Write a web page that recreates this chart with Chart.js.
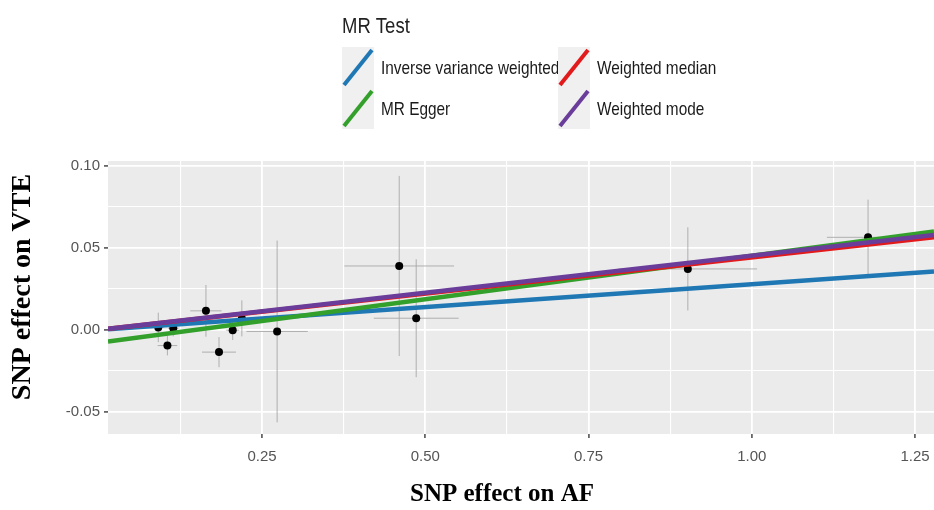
<!DOCTYPE html>
<html>
<head>
<meta charset="utf-8">
<script src="https://cdn.jsdelivr.net/npm/chart.js@4.4.1/dist/chart.umd.min.js"></script>
<style>
	html, body { margin: 0; padding: 0; background: #fff; }
	#mr-scatter { display: block; }
</style>
</head>
<body>
<canvas id="mr-scatter" width="934" height="510"></canvas>
<script>
// SNP estimates (effect on AF / effect on VTE) with half-widths of the error bars
const snpX = [0.091, 0.105, 0.114, 0.164, 0.184, 0.205, 0.219, 0.273, 0.460, 0.486, 0.902, 1.178];
const snpY = [0.0015, -0.0096, 0.001, 0.0116, -0.0136, -0.0002, 0.007, -0.001, 0.039, 0.0071, 0.0372, 0.0565];
const snpErrX = [0.008, 0.015, 0.008, 0.024, 0.026, 0.010, 0.010, 0.047, 0.084, 0.065, 0.106, 0.063];
const snpErrY = [0.009, 0.006, 0.005, 0.0158, 0.0092, 0.006, 0.011, 0.0555, 0.055, 0.036, 0.0254, 0.023];

// MR methods: fitted lines (intercept + slope * x)
const methodNames = ["Inverse variance weighted", "MR Egger", "Weighted median", "Weighted mode"];
const methodSlopes = [0.0278, 0.0530, 0.0442, 0.0453];
const methodIntercepts = [0, -0.0078, 0, 0];

// axis ticks
const xTicks = [0.25, 0.5, 0.75, 1.0, 1.25];
const xTickLabels = ["0.25", "0.50", "0.75", "1.00", "1.25"];
const xMinorTicks = [0.125, 0.375, 0.625, 0.875, 1.125];
const yTicks = [-0.05, 0, 0.05, 0.1];
const yTickLabels = ["-0.05", "0.00", "0.05", "0.10"];
const yMinorTicks = [-0.025, 0.025, 0.075];

const X_MIN = 0.014, X_MAX = 1.279;
const Y_MIN = -0.0636, Y_MAX = 0.1031;

const METHOD_COLORS = ["#1f78b4", "#33a02c", "#e31a1c", "#6a3d9a"];
const TICK_FONT = "'Liberation Sans', Arial, sans-serif";
const TITLE_FONT = "'Liberation Serif', 'Times New Roman', serif";

const near = (a, b) => Math.abs(a - b) < 1e-6;
const majorLabel = (list, labels, v) => {
	const i = list.findIndex((t) => near(t, v));
	return i >= 0 ? labels[i] : "";
};
const isMajor = (list, v) => list.some((t) => near(t, v));

// narrow text, like the squeezed picture
const narrowText = (ctx, text, x, y, squeeze) => {
	ctx.save();
	ctx.translate(x, y);
	ctx.scale(squeeze, 1);
	ctx.fillText(text, 0, 0);
	ctx.restore();
};

// grey panel + error bars under the points
const panel = {
	id: "panel",
	beforeDraw(chart) {
		const { ctx, chartArea: a } = chart;
		ctx.save();
		ctx.fillStyle = "#ebebeb";
		ctx.fillRect(a.left, a.top, a.right - a.left, a.bottom - a.top);
		ctx.restore();
	},
	beforeDatasetsDraw(chart) {
		const { ctx, chartArea: a, scales } = chart;
		ctx.save();
		ctx.beginPath();
		ctx.rect(a.left, a.top, a.right - a.left, a.bottom - a.top);
		ctx.clip();
		ctx.strokeStyle = "rgba(165,165,165,0.85)";
		ctx.lineWidth = 1;
		snpX.forEach((x, i) => {
			const y = snpY[i];
			const px = scales.x.getPixelForValue(x);
			const py = scales.y.getPixelForValue(y);
			ctx.beginPath();
			ctx.moveTo(scales.x.getPixelForValue(x - snpErrX[i]), py);
			ctx.lineTo(scales.x.getPixelForValue(x + snpErrX[i]), py);
			ctx.moveTo(px, scales.y.getPixelForValue(y - snpErrY[i]));
			ctx.lineTo(px, scales.y.getPixelForValue(y + snpErrY[i]));
			ctx.stroke();
		});
		ctx.restore();
	},
};

// ggplot style legend and axis titles
const decor = {
	id: "decor",
	afterDraw(chart) {
		const { ctx } = chart;
		ctx.save();
		ctx.fillStyle = "#222";
		ctx.textBaseline = "alphabetic";
		ctx.textAlign = "left";
		ctx.font = `22px ${TICK_FONT}`;
		narrowText(ctx, "MR Test", 342, 33, 0.84);

		const lines = chart.data.datasets.filter((d) => d.showLine);
		lines.forEach((d, i) => {
			const col = Math.floor(i / 2);
			const row = i % 2;
			const kx = 342 + col * 216;
			const ky = 47 + row * 41;
			ctx.fillStyle = "#f0f0f0";
			ctx.fillRect(kx, ky, 32, 41);
			ctx.strokeStyle = d.borderColor;
			ctx.lineWidth = 4;
			ctx.beginPath();
			ctx.moveTo(kx + 2, ky + 38);
			ctx.lineTo(kx + 30, ky + 3);
			ctx.stroke();
			ctx.fillStyle = "#1a1a1a";
			ctx.font = `18.5px ${TICK_FONT}`;
			ctx.textBaseline = "middle";
			narrowText(ctx, d.label, kx + 39, ky + 22, 0.83);
		});

		ctx.fillStyle = "#000";
		ctx.font = `bold 25px ${TITLE_FONT}`;
		ctx.textAlign = "center";
		ctx.textBaseline = "middle";
		ctx.fillText("SNP effect on AF", 502, 495);

		ctx.translate(23, 287);
		ctx.rotate(-Math.PI / 2);
		ctx.font = `bold 28px ${TITLE_FONT}`;
		ctx.fillText("SNP effect on VTE", 0, 0);
		ctx.restore();
	},
};

const lineDatasets = methodNames.map((name, i) => ({
	type: "scatter",
	label: name,
	showLine: true,
	data: [X_MIN, X_MAX].map((x) => ({ x, y: methodIntercepts[i] + methodSlopes[i] * x })),
	borderColor: METHOD_COLORS[i],
	backgroundColor: METHOD_COLORS[i],
	borderWidth: 4.5,
	pointRadius: 0,
	order: 4 - i,
}));

const DATA = {
	datasets: [
		{
			type: "scatter",
			label: "SNPs",
			data: snpX.map((x, i) => ({ x, y: snpY[i] })),
			backgroundColor: "#000",
			borderWidth: 0,
			pointRadius: 4,
			order: 10,
		},
		...lineDatasets,
	],
};

const CONFIG = {
	type: "scatter",
	data: DATA,
	options: {
		responsive: false,
		animation: false,
		devicePixelRatio: 1,
		layout: {
			autoPadding: false,
			padding: { top: 161, left: 0, right: 0, bottom: 0 },
		},
		plugins: {
			legend: { display: false },
			tooltip: { enabled: false },
		},
		scales: {
			x: {
				type: "linear",
				min: X_MIN,
				max: X_MAX,
				afterBuildTicks: (axis) => {
					axis.ticks = [...xMinorTicks, ...xTicks].sort((p, q) => p - q).map((value) => ({ value }));
				},
				afterFit: (axis) => {
					axis.height = 76;
					axis.paddingLeft = 0;
					axis.paddingRight = 0;
				},
				border: { display: false },
				grid: {
					color: "#fff",
					lineWidth: (c) => (c.tick && isMajor(xTicks, c.tick.value) ? 1.8 : 1.1),
					tickColor: (c) => (c.tick && isMajor(xTicks, c.tick.value) ? "#666" : "rgba(0,0,0,0)"),
					tickLength: 4,
					drawTicks: true,
				},
				ticks: {
					autoSkip: false,
					maxRotation: 0,
					padding: 10,
					color: "#555",
					font: { family: TICK_FONT, size: 15 },
					callback: (v) => majorLabel(xTicks, xTickLabels, v),
				},
			},
			y: {
				type: "linear",
				min: Y_MIN,
				max: Y_MAX,
				afterBuildTicks: (axis) => {
					axis.ticks = [...yMinorTicks, ...yTicks].sort((p, q) => p - q).map((value) => ({ value }));
				},
				afterFit: (axis) => {
					axis.width = 108;
					axis.paddingTop = 0;
					axis.paddingBottom = 0;
				},
				border: { display: false },
				grid: {
					color: "#fff",
					lineWidth: (c) => (c.tick && isMajor(yTicks, c.tick.value) ? 1.8 : 1.1),
					tickColor: (c) => (c.tick && isMajor(yTicks, c.tick.value) ? "#666" : "rgba(0,0,0,0)"),
					tickLength: 4,
					drawTicks: true,
				},
				ticks: {
					autoSkip: false,
					padding: 4,
					color: "#555",
					font: { family: TICK_FONT, size: 15 },
					callback: (v) => majorLabel(yTicks, yTickLabels, v),
				},
			},
		},
	},
	plugins: [panel, decor],
};

new Chart(document.getElementById("mr-scatter"), CONFIG);
</script>
</body>
</html>
